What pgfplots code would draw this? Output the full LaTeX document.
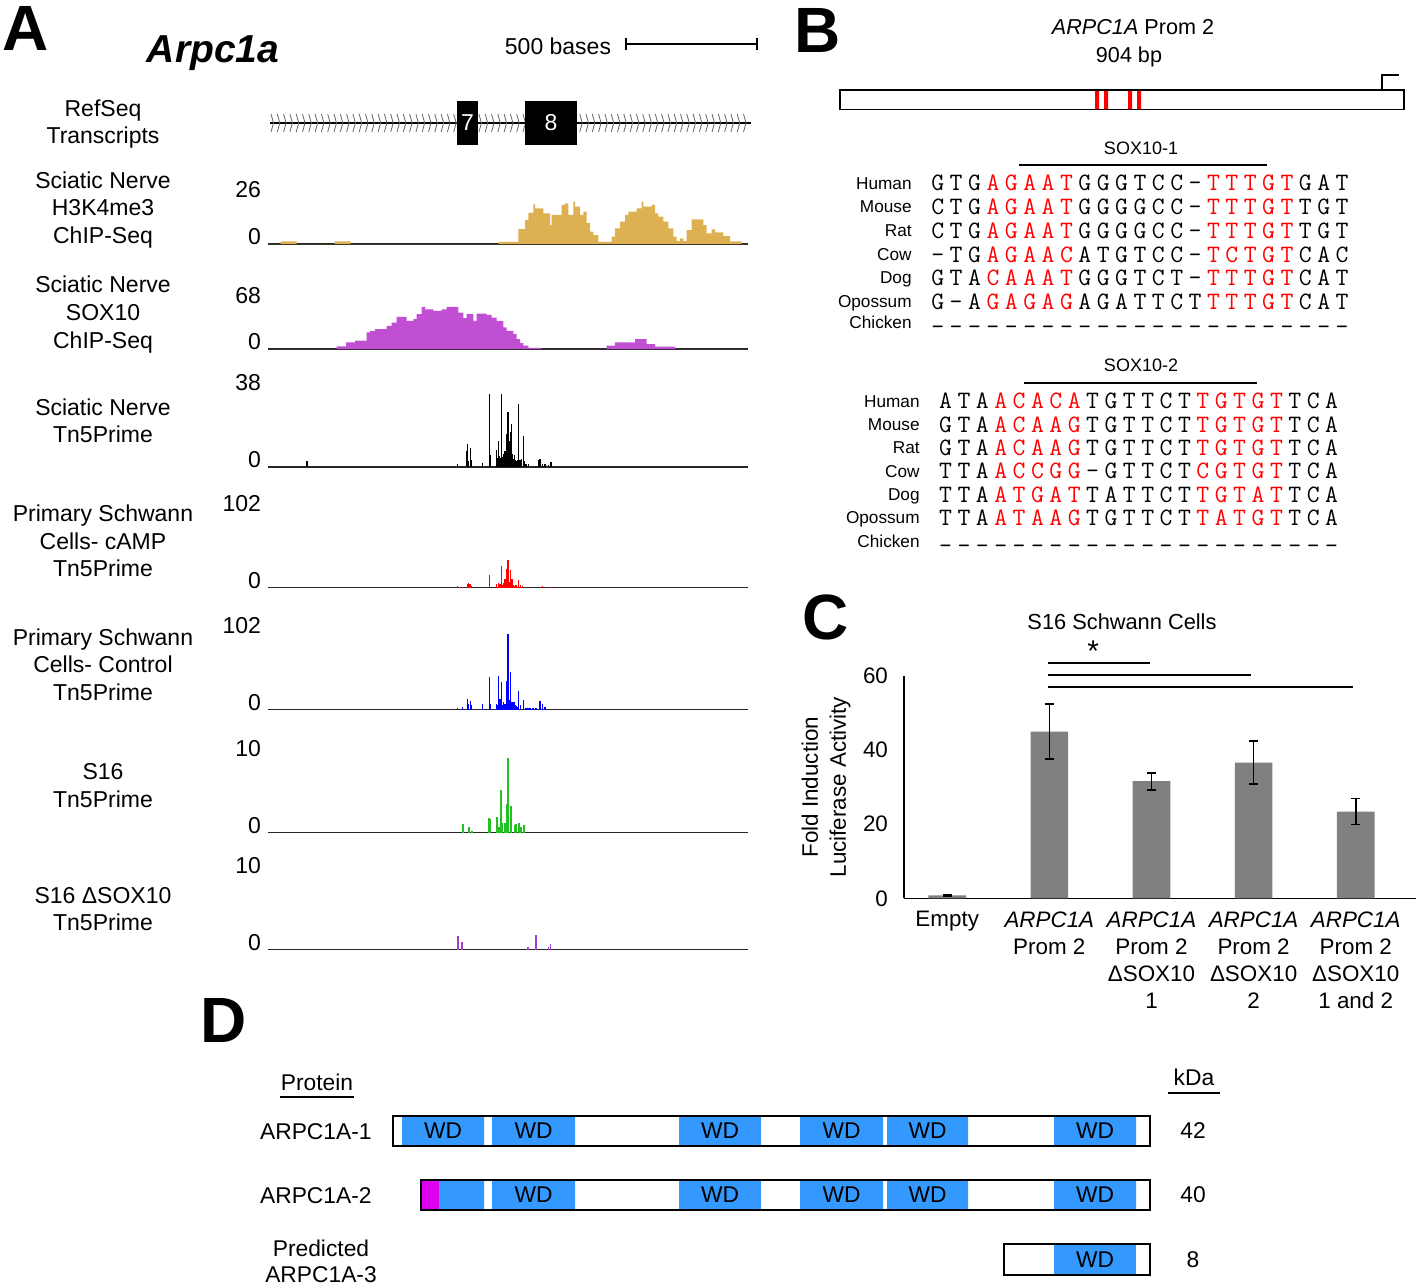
\documentclass[border=0pt]{standalone}
\usepackage{fontspec}
\setmainfont{Liberation Sans}
\usepackage{xcolor}
\usepackage{pgfplots}
\pgfplotsset{compat=1.18}
\definecolor{goldH}{HTML}{DDB052}
\definecolor{sox}{HTML}{C04FD4}
\definecolor{grn}{HTML}{22C022}
\definecolor{pur}{HTML}{A040D0}
\definecolor{wdblue}{HTML}{3399FF}
\definecolor{mag}{HTML}{DD00EE}
\definecolor{bargray}{HTML}{808080}
\newcommand{\fA}{\fontsize{11.5}{14}\selectfont}
\newcommand{\fP}{\fontsize{32}{34}\selectfont\bfseries}
\newlength{\sqw}\setlength{\sqw}{9.19pt}
\def\sqmap#1{\if a#1\textcolor{red}{A}\else\if c#1\textcolor{red}{C}\else\if g#1\textcolor{red}{G}\else\if t#1\textcolor{red}{T}\else #1\fi\fi\fi\fi}
\def\sqloop#1{\ifx\relax#1\else\makebox[\sqw]{\sqmap#1}\expandafter\sqloop\fi}
\newcommand{\sq}[1]{{\ttfamily\fontsize{12.5}{13}\selectfont\sqloop#1\relax}}
\newcommand{\spn}[1]{{\fontsize{8.6}{10}\selectfont #1}}
\pgfplotsset{
 trk/.style={scale only axis, width=240pt, xmin=0, xmax=480, ymin=0, ymax=#1,
  axis x line*=bottom, axis y line*=left,
  x axis line style={-, line width=0.8pt, black!85},
  y axis line style={draw=none},
  xtick=\empty, ytick={0}, extra y ticks={#1},
  extra y tick style={grid=none, yticklabel style={yshift=-3.6pt}},
  yticklabel style={font=\fA, yshift=3.6pt},
  major tick length=0pt, /pgf/number format/assume math mode=true,
  clip=false, anchor=south west},
}
\begin{document}
\begin{tikzpicture}[x=0.5pt,y=-0.5pt]
\useasboundingbox (0,0) rectangle (1418,1286);
% ---------------- Panel A ----------------
\node[anchor=base, inner sep=0pt] at (26,50) {\fP A};
\node[anchor=base, inner sep=0pt] at (213,62) {\fontsize{19.5}{22}\selectfont\bfseries\itshape Arpc1a};
\node[anchor=base, inner sep=0pt] at (558,54) {\fA 500 bases};
\draw[line width=0.9pt] (626,44) -- (757,44) (626,38) -- (626,50) (757,38) -- (757,50);
% left labels
\foreach \t/\yy in {RefSeq/116, Transcripts/143, Sciatic Nerve/188, H3K4me3/215.5, ChIP-Seq/243,
  Sciatic Nerve/292, SOX10/320, ChIP-Seq/348, Sciatic Nerve/415, Tn5Prime/442,
  Primary Schwann/521, Cells- cAMP/549, Tn5Prime/576,
  Primary Schwann/645, Cells- Control/672, Tn5Prime/700,
  S16/779, Tn5Prime/807, S16 ΔSOX10/903, Tn5Prime/930}
  {\node[anchor=base, inner sep=0pt] at (103,\yy) {\fA \t};}
% gene model
\draw[line width=0.7pt] (270,123) -- (751,123);
\foreach \x in {271,277.3,...,748} {\draw[line width=0.4pt, black!60] (\x,114) -- (\x+2.5,123) -- (\x,132);}
\fill[black] (457,101) rectangle (478,145);
\fill[black] (525,101) rectangle (577,145);
\node[white, inner sep=0pt] at (467.5,123) {\fA 7};
\node[white, inner sep=0pt] at (551,123) {\fA 8};
% H3K4me3
\begin{axis}[trk=26, height=27pt, at={(134pt,-122pt)}]
\addplot[const plot, fill=goldH, draw=none] coordinates {
(0,0)(12.7,1.3)(28.7,0)(66.7,1.3)(82.7,0)(230.3,1.0)(250.3,7.2)(257,11.6)(260.3,15)(265.3,19.3)(267,17.2)
(275.3,14.8)(282,9)(283.7,14)(293.7,18.8)(297,19.6)(300.3,14)(305.3,20.4)(307,18)(312,14)(315.3,15.6)
(318.7,10)(322,6)(325.3,4.3)(330.3,1)(343.7,3.5)(347,7.5)(352,10.8)(357,14)(360.3,15.6)(368.7,17.2)
(373.7,20.4)(375.3,18)(383.7,18.8)(387,14.8)(390.3,13.2)(395.3,10.8)(400.3,7.5)(405.3,3.5)(408.7,1.4)
(412,2.7)(415.3,1.4)(418.7,6.7)(423.7,11.9)(435.3,9.1)(438.7,5.1)(443.7,7)(447,5.6)(455.3,3.8)(462,1.3)
(473.7,0)(480,0)} \closedcycle;
\end{axis}
% SOX10 ChIP
\begin{axis}[trk=68, height=26.5pt, at={(134pt,-174.5pt)}]
\addplot[const plot, fill=sox, draw=none] coordinates {
(0,0)(68.7,3.4)(78,8.5)(87,10.6)(98.7,21.3)(102,23.4)(107,25.5)(118.7,29.8)(123.7,34)(128.7,41.2)
(138.7,36.1)(145.3,38.3)(148.7,44.6)(153.7,54)(157,51)(165.3,48.9)(173.7,51)(178.7,54)(190.3,46.8)
(195.3,39.5)(198.7,44.6)(205.3,36.1)(208.7,45.5)(218.7,43.8)(223.7,40.4)(228.7,36.1)(235.3,27.6)
(238.7,23.4)(245.3,19.1)(248.7,12.8)(252,7.7)(255.3,4.3)(260.3,1.3)(273.7,0)(338.7,4.3)(347,8.5)
(367,12.8)(378.7,6.4)(387,3)(407,0)(480,0)} \closedcycle;
\end{axis}
% Sciatic Tn5
\begin{axis}[trk=38, height=42pt, at={(134pt,-233.5pt)}]
\addplot[ycomb, draw=black, line width=0.55pt, no marks] coordinates {
(39,2.7)(189.7,1.5)(193.7,0.6)(198.7,7.2)(199.7,10.6)(200.7,2.7)(202.7,8.6)(203.7,3)(214.3,1.8)
(221.3,33.2)(222.7,5.4)(228.7,7.5)(229.5,4)(230.3,11.6)(230.8,3.5)(231.3,4.9)(232.3,4)(233.7,33.2)
(234.5,4.5)(235.3,5.7)(236,4)(237,7.2)(238.7,14.9)(239.3,5)(240,24.7)(241.3,11.6)(241.9,4.5)
(242.7,15.8)(243.2,5)(243.7,19.4)(244.7,5.7)(245.5,3.5)(246.7,5.4)(247.5,3)(248.5,2.5)(249.5,3)
(250.7,28.5)(252,3)(253.7,3.4)(255.3,14.2)(256.3,2.7)(258,1.5)(260.3,1.2)(270.3,3)(272,3.7)
(274.7,1.5)(277,1.2)(280.3,0.9)(283,2.2)};
\end{axis}
% PSC cAMP
\begin{axis}[trk=102, height=42pt, at={(134pt,-293.75pt)}]
\addplot[ycomb, draw=red, line width=0.55pt, no marks] coordinates {
(189.7,2.4)(191.3,1.2)(194.7,1.2)(199.3,4.4)(200.7,5.6)(202,4.4)(203.7,2.4)(221.3,14.8)(228.7,4.8)
(230.3,5.6)(231,3)(232,4)(233.7,25.6)(234.5,3)(235.3,5.6)(236,3.5)(237,10.8)(238.7,22.8)(239.3,4)
(240,33.6)(241.3,6.8)(242.7,21.6)(243.5,3.5)(244,10.8)(245.3,2.8)(246.5,2)(248,2.5)(250.7,8.8)
(252.3,3.6)(254.7,2.4)(274.7,2.4)(282,1.2)};
\end{axis}
% PSC Control
\begin{axis}[trk=102, height=42pt, at={(134pt,-354.75pt)}]
\addplot[ycomb, draw=blue, line width=0.55pt, no marks] coordinates {
(189.7,2)(194.7,3.2)(199.3,13.2)(200.7,7.2)(202.7,10)(203.7,5.2)(214.3,7.2)(221.3,39.2)(222.7,7.2)
(228.7,7.2)(229.5,5)(230.3,40.4)(231,6)(232,13.2)(233.7,33.2)(234.5,6)(235.3,9.2)(236,5)(237,7.2)
(238.7,35.2)(239.3,6)(240,92)(241.3,11.2)(242.7,46)(243.3,5)(244,9.2)(245,4)(246,9.2)(247.3,5.2)
(248.5,4)(249.5,3)(250.7,22)(252.3,5.2)(255.3,11.2)(258,2)(260,1.5)(262,2)(265,1.5)(268,1.5)
(272,10)(274.7,7.2)(277,3.2)};
\end{axis}
% S16 Tn5
\begin{axis}[trk=10, height=42pt, at={(134pt,-416.25pt)}]
\addplot[ycomb, draw=grn, line width=0.9pt, no marks] coordinates {
(194.7,1.0)(201,0.6)(203.7,0.2)(221,1.7)(222,1.6)(229.3,1.8)(230.7,0.7)(233.3,5.1)(234,1.1)
(236.7,1.1)(238.7,3.4)(240,8.9)(242.7,3.1)(246.7,0.9)(248,1.0)(250.7,1.1)(253,0.6)(256.3,0.9)};
\end{axis}
% S16 dSOX10 Tn5
\begin{axis}[trk=10, height=42pt, at={(134pt,-474.75pt)}]
\addplot[ycomb, draw=pur, line width=0.8pt, no marks] coordinates {
(189.7,1.55)(193.7,0.9)(259.7,0.3)(268,1.7)(280.3,0.35)(282.3,0.6)};
\end{axis}
% ---------------- Panel B ----------------
\node[anchor=base, inner sep=0pt] at (818,52) {\fP B};
\node[anchor=base, inner sep=0pt] at (1133,34.5) {\fontsize{10.8}{13}\selectfont\textit{ARPC1A} Prom 2};
\node[anchor=base, inner sep=0pt] at (1129,62.5) {\fontsize{10.8}{13}\selectfont 904 bp};
\draw[line width=0.6pt] (840,90) rectangle (1404,109.5);
\fill[red] (1095,91) rectangle (1099,109) (1104,91) rectangle (1108,109) (1128,91) rectangle (1132,109) (1137,91) rectangle (1141,109);
\draw[line width=0.6pt] (1382,90) -- (1382,75) -- (1399,75);
\node[anchor=base, inner sep=0pt] at (1141,154.5) {\fontsize{9}{11}\selectfont SOX10-1};
\draw[line width=0.7pt] (1019,165) -- (1267,165);
\foreach \n/\s/\b in {Human/GTGagaatGGGTCC-tttgtGAT/190.7, Mouse/CTGagaatGGGGCC-tttgtTGT/214,
  Rat/CTGagaatGGGGCC-tttgtTGT/238, Cow/-TGagaacATGTCC-tctgtCAC/262, Dog/GTAcaaatGGGTCT-tttgtCAT/285.3,
  Opossum/G-AgagagAGATTCTtttgtCAT/309.3}
 {\node[anchor=base east, inner sep=0pt] at (912,\b-1.5) {\spn{\n}};
  \node[anchor=base west, inner sep=0pt] at (928.2,\b) {\expandafter\sq\expandafter{\s}};}
\node[anchor=base east, inner sep=0pt] at (912,328) {\spn{Chicken}};
\node[anchor=base west, inner sep=0pt] at (928.2,334) {\sq{-----------------------}};
\node[anchor=base, inner sep=0pt] at (1141,371) {\fontsize{9}{11}\selectfont SOX10-2};
\draw[line width=0.7pt] (1024,383) -- (1257,383);
\foreach \n/\s/\b in {Human/ATAacacaTGTTCTtgtgtTCA/408.7, Mouse/GTAacaagTGTTCTtgtgtTCA/432,
  Rat/GTAacaagTGTTCTtgtgtTCA/455.3, Cow/TTAaccgg-GTTCTcgtgtTCA/478.7, Dog/TTAatgatTATTCTtgtatTCA/502,
  Opossum/TTAataagTGTTCTtatgtTCA/525.3}
 {\node[anchor=base east, inner sep=0pt] at (920,\b-1.5) {\spn{\n}};
  \node[anchor=base west, inner sep=0pt] at (936,\b) {\expandafter\sq\expandafter{\s}};}
\node[anchor=base east, inner sep=0pt] at (920,547) {\spn{Chicken}};
\node[anchor=base west, inner sep=0pt] at (936,553) {\sq{----------------------}};
% ---------------- Panel C ----------------
\node[anchor=base, inner sep=0pt] at (826,639) {\fP C};
\node[anchor=base, inner sep=0pt] at (1122,629.5) {\fontsize{10.9}{13}\selectfont S16 Schwann Cells};
\begin{axis}[scale only axis, width=256pt, height=111.15pt, at={(452pt,-449.15pt)}, anchor=south west,
 xmin=-0.423, xmax=4.59, ymin=0, ymax=60,
 axis x line*=bottom, axis y line*=left, axis line style={-, line width=0.8pt},
 xtick={0,1,2,3,4},
 xticklabels={Empty, {\textit{ARPC1A}\\Prom 2}, {\textit{ARPC1A}\\Prom 2\\ΔSOX10\\1},
   {\textit{ARPC1A}\\Prom 2\\ΔSOX10\\2}, {\textit{ARPC1A}\\Prom 2\\ΔSOX10\\1 and 2}},
 xticklabel style={align=center, font=\fontsize{11.2}{13.6}\selectfont, yshift=-3pt},
 ytick={0,20,40,60}, yticklabel style={font=\fontsize{11.2}{13.6}\selectfont, xshift=-4.5pt},
 major tick length=0pt, /pgf/number format/assume math mode=true,
 ylabel={Fold Induction\\Luciferase Activity},
 every axis y label/.style={at={(axis description cs:-0.152,0.5)}, rotate=90, anchor=center,
   align=center, font=\fontsize{11.2}{14}\selectfont},
 clip=false]
\addplot[ybar, bar width=18.8pt, fill=bargray, draw=none,
  error bars/.cd, y dir=both, y explicit,
  error bar style={line width=0.8pt, draw=black},
  error mark options={rotate=90, line width=0.8pt, draw=black, mark size=2.2pt}]
 coordinates {(0,0.8) +- (0,0.2) (1,45) +- (0,7.4) (2,31.6) +- (0,2.3) (3,36.6) +- (0,5.8) (4,23.4) +- (0,3.5)};
\draw[line width=0.9pt] (axis cs:0.99,63.6) -- (axis cs:1.99,63.6);
\draw[line width=0.9pt] (axis cs:0.99,60.3) -- (axis cs:2.97,60.3);
\draw[line width=0.9pt] (axis cs:0.99,57.1) -- (axis cs:3.97,57.1);
\node[anchor=base, inner sep=0pt] at (axis cs:1.43,63.8) {\fontsize{15}{16}\selectfont *};
\end{axis}
% ---------------- Panel D ----------------
\node[anchor=base, inner sep=0pt] at (224,1042) {\fP D};
\node[inner sep=0pt] at (317,1082) {\fontsize{11.4}{14}\selectfont Protein};
\draw[line width=0.8pt] (280,1097) -- (354,1097);
\node[inner sep=0pt] at (1194,1077) {\fontsize{11.4}{14}\selectfont kDa};
\draw[line width=0.8pt] (1168,1093) -- (1220,1093);
% row 1
\fill[wdblue] (402,1116) rectangle (484,1146) (492,1116) rectangle (575,1146) (679,1116) rectangle (761,1146)
  (800,1116) rectangle (883,1146) (887,1116) rectangle (968,1146) (1054,1116) rectangle (1136,1146);
\draw[line width=1pt] (393,1116) rectangle (1150,1146);
\foreach \cx in {443,533.5,720,841.5,927.5,1095} {\node[inner sep=0pt] at (\cx,1131) {\fontsize{11.4}{14}\selectfont WD};}
\node[anchor=east, inner sep=0pt] at (372,1132) {\fontsize{11.4}{14}\selectfont ARPC1A-1};
\node[inner sep=0pt] at (1193,1131) {\fontsize{11.4}{14}\selectfont 42};
% row 2
\fill[mag] (421,1180) rectangle (439,1210);
\fill[wdblue] (439,1180) rectangle (484,1210) (492,1180) rectangle (575,1210) (679,1180) rectangle (761,1210)
  (800,1180) rectangle (883,1210) (887,1180) rectangle (968,1210) (1054,1180) rectangle (1136,1210);
\draw[line width=1pt] (421,1180) rectangle (1150,1210);
\foreach \cx in {533.5,720,841.5,927.5,1095} {\node[inner sep=0pt] at (\cx,1195) {\fontsize{11.4}{14}\selectfont WD};}
\node[anchor=east, inner sep=0pt] at (372,1196) {\fontsize{11.4}{14}\selectfont ARPC1A-2};
\node[inner sep=0pt] at (1193,1195) {\fontsize{11.4}{14}\selectfont 40};
% row 3
\fill[wdblue] (1054,1244) rectangle (1136,1275);
\draw[line width=1pt] (1004,1244) rectangle (1150,1275);
\node[inner sep=0pt] at (1095,1259.5) {\fontsize{11.4}{14}\selectfont WD};
\node[inner sep=0pt] at (321,1248) {\fontsize{11.4}{14}\selectfont Predicted};
\node[inner sep=0pt] at (321,1275) {\fontsize{11.4}{14}\selectfont ARPC1A-3};
\node[inner sep=0pt] at (1193,1260) {\fontsize{11.4}{14}\selectfont 8};
\end{tikzpicture}
\end{document}
